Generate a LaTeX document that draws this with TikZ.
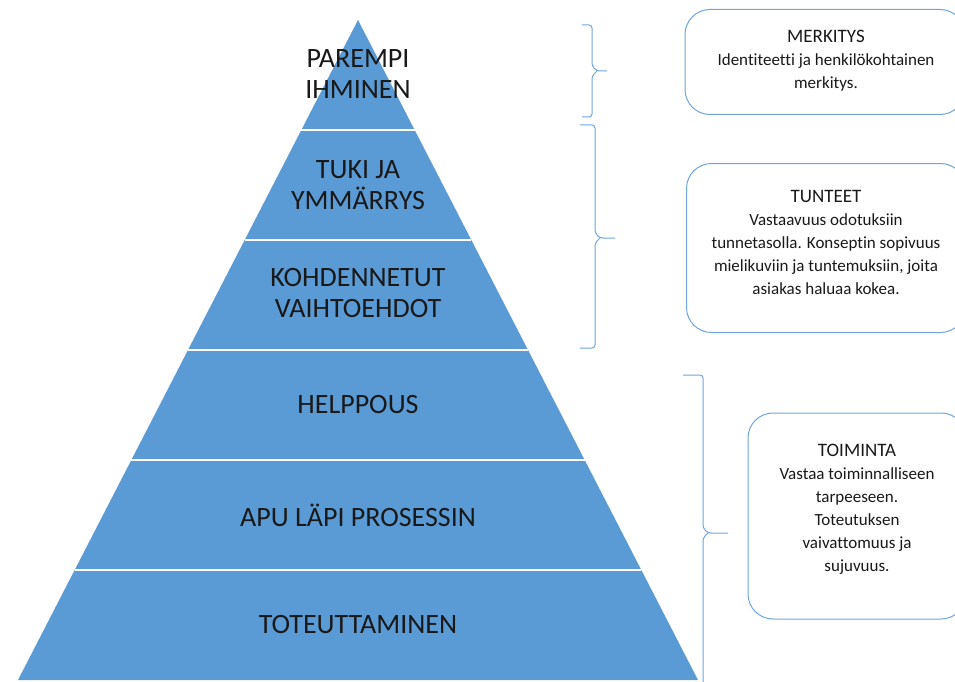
\documentclass[tikz,border=0pt]{standalone}
\usepackage{fontspec}
\setmainfont{Carlito}[Ligatures=NoCommon]
\definecolor{pyrblue}{RGB}{91,155,213}
\definecolor{lineblue}{RGB}{112,165,220}
\begin{document}
\begin{tikzpicture}[x=1pt,y=-1pt,
  level/.style={font=\fontsize{28}{31}\selectfont, text=black!90, align=center},
  infobox/.style={draw=lineblue, line width=1pt, rounded corners=25pt},
  infotext/.style={align=center, text=black!90, font=\fontsize{17}{23}\selectfont},
  bracket/.style={draw=lineblue, line width=1pt, rounded corners=3pt}]
  \useasboundingbox (0,0) rectangle (955,682);
  \clip (0,0) rectangle (955,682);
  \fill[white] (0,0) rectangle (955,682);
  % pyramid
  \coordinate (apex) at (358,20);
  \coordinate (baseL) at (18,680);
  \coordinate (baseR) at (698,680);
  \fill[pyrblue] (apex) -- (baseR) -- (baseL) -- cycle;
  \foreach \y in {130,240,350,460,570}
    \draw[white, line width=1.5pt] ({358-(\y-20)*0.5152},\y) -- ({358+(\y-20)*0.5152},\y);
  \node[level] (parempi) at (358,74) {PAREMPI\\IHMINEN};
  \node[level] (tuki) at (358,185) {TUKI JA\\YMMÄRRYS};
  \node[level] (kohden) at (358,293) {KOHDENNETUT\\VAIHTOEHDOT};
  \node[level] (helppous) at (358,405) {HELPPOUS};
  \node[level] (apu) at (358,515) {APU LÄPI PROSESSIN};
  \node[level] (toteutt) at (358,625) {TOTEUTTAMINEN};
  % braces
  \foreach \xa/\xb/\xc/\ya/\ym/\yb in {582/592/607/25/71/117,580/595/615/125/238/348,683/703/728/375/533/691}
    \draw[bracket] (\xa,\ya) -- (\xb,\ya) -- (\xb,{\ym-5}) -- ({\xb+5},\ym) -- (\xc,\ym)
      ({\xb+5},\ym) -- (\xb,{\ym+5}) -- (\xb,\yb) -- (\xa,\yb);
  % info boxes
  \node[infobox, minimum width=280pt, minimum height=105pt] (merkitys) at (825,62) {};
  \node[infotext] (merkitystxt) at (826,61)
    {{\fontsize{19}{23}\selectfont MERKITYS}\\Identiteetti ja henkilökohtainen\\merkitys.};
  \node[infobox, minimum width=279pt, minimum height=169pt] (tunteet) at (826,248) {};
  \node[infotext] (tunteettxt) at (826,242)
    {{\fontsize{19}{23}\selectfont TUNTEET}\\Vastaavuus odotuksiin\\tunnetasolla. Konseptin sopivuus\\mielikuviin ja tuntemuksiin, joita\\asiakas haluaa kokea.};
  \node[infobox, minimum width=218pt, minimum height=206pt] (toiminta) at (857,516) {};
  \node[infotext] (toimintatxt) at (857,509)
    {{\fontsize{19}{23}\selectfont TOIMINTA}\\Vastaa toiminnalliseen\\tarpeeseen.\\Toteutuksen\\vaivattomuus ja\\sujuvuus.};
\end{tikzpicture}
\end{document}
